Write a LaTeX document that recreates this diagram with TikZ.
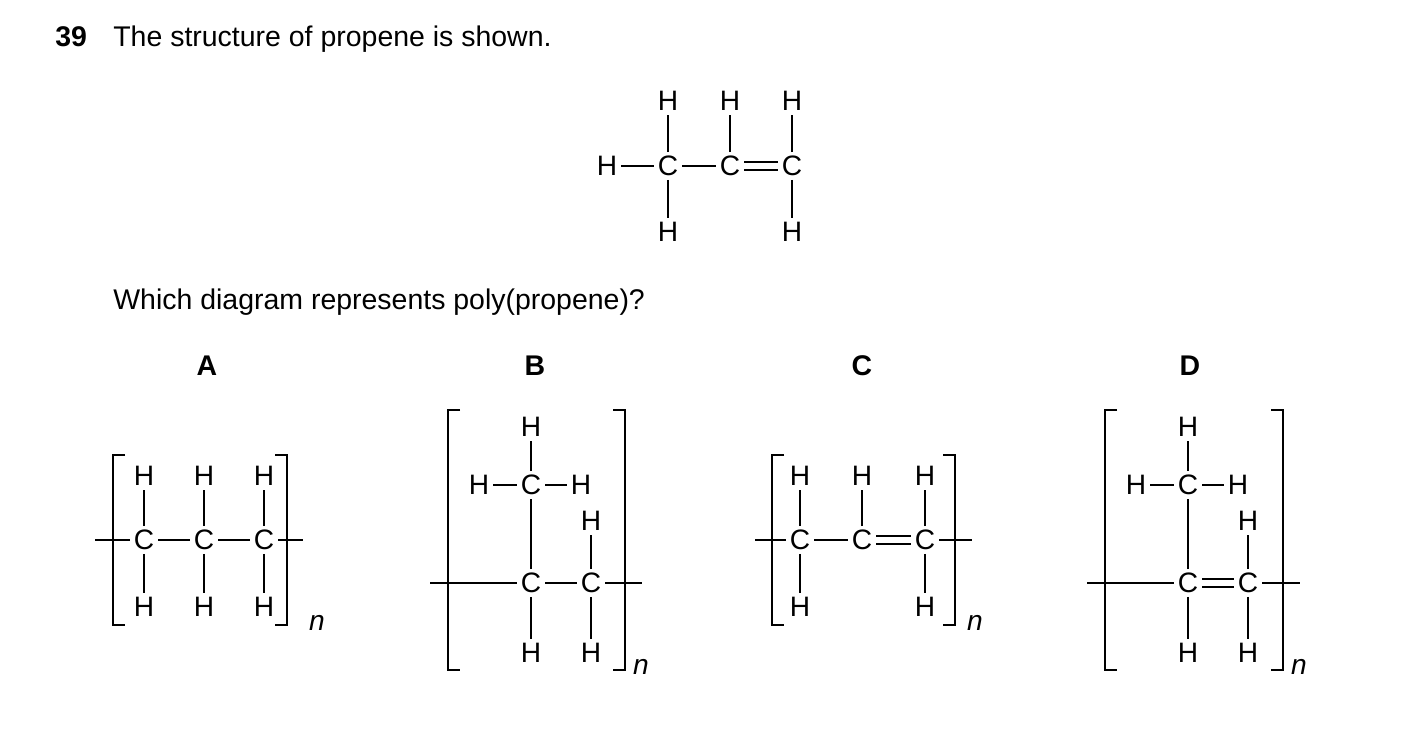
\documentclass[tikz,border=0pt]{standalone}
\usepackage{fontspec}
\setmainfont{Liberation Sans}
\tikzset{
  atom/.style={font=\fontsize{16}{16}\selectfont, inner sep=2pt},
  bond/.style={line width=1.1pt},
  dbond/.style={line width=1.1pt, double, double distance=3.5pt},
  brack/.style={line width=1.1pt},
  txt/.style={font=\fontsize{16.2}{18}\selectfont, anchor=base west, inner sep=0pt},
  lab/.style={font=\fontsize{16.2}{18}\selectfont\bfseries, inner sep=0pt},
  nn/.style={font=\fontsize{16}{16}\selectfont\itshape, inner sep=0pt}
}
\begin{document}
\begin{tikzpicture}[x=0.02cm,y=-0.02cm]
    \useasboundingbox (0,0) rectangle (1403,731);

    \node[txt,font=\fontsize{16.2}{18}\selectfont\bfseries] (num) at (55,46) {39};
    \node[txt] (q1) at (113,46) {The structure of propene is shown.};
    \node[txt] (q2) at (113,309) {Which diagram represents poly(propene)?};

    % propene
    \node[atom] (pH0) at (607,166) {H};
    \node[atom] (pC1) at (668,166) {C};
    \node[atom] (pC2) at (730,166) {C};
    \node[atom] (pC3) at (792,166) {C};
    \node[atom] (pH1) at (668,101) {H};
    \node[atom] (pH2) at (730,101) {H};
    \node[atom] (pH3) at (792,101) {H};
    \node[atom] (pH4) at (668,232) {H};
    \node[atom] (pH5) at (792,232) {H};
    \draw[bond] (pH0) -- (pC1);
    \draw[bond] (pC1) -- (pC2);
    \draw[dbond] (pC2) -- (pC3);
    \draw[bond] (pC1) -- (pH1);
    \draw[bond] (pC2) -- (pH2);
    \draw[bond] (pC3) -- (pH3);
    \draw[bond] (pC1) -- (pH4);
    \draw[bond] (pC3) -- (pH5);

    \node[lab] (labA) at (207,366) {A};
    \node[lab] (labB) at (535,366) {B};
    \node[lab] (labC) at (862,366) {C};
    \node[lab] (labD) at (1190,366) {D};

    % A
    \coordinate (aL) at (95,540);
    \coordinate (aR) at (303,540);
    \foreach \i/\x in {1/144,2/204,3/264} {
      \node[atom] (aC\i) at (\x,540) {C};
      \node[atom] (aT\i) at (\x,476) {H};
      \node[atom] (aB\i) at (\x,607) {H};
      \draw[bond] (aC\i) -- (aT\i);
      \draw[bond] (aC\i) -- (aB\i);
    }
    \draw[bond] (aL) -- (aC1);
    \draw[bond] (aC1) -- (aC2);
    \draw[bond] (aC2) -- (aC3);
    \draw[bond] (aC3) -- (aR);
    \draw[brack] (125,455) -- (113,455) -- (113,625) -- (125,625);
    \draw[brack] (275,455) -- (287,455) -- (287,625) -- (275,625);
    \node[nn] (an) at (317,623) {n};

    % B
    \coordinate (bL) at (430,583);
    \coordinate (bR) at (642,583);
    \node[atom] (bC1) at (531,583) {C};
    \node[atom] (bC2) at (591,583) {C};
    \node[atom] (bC3) at (531,485) {C};
    \node[atom] (bH1) at (531,427) {H};
    \node[atom] (bH2) at (479,485) {H};
    \node[atom] (bH3) at (581,485) {H};
    \node[atom] (bH4) at (591,521) {H};
    \node[atom] (bH5) at (531,653) {H};
    \node[atom] (bH6) at (591,653) {H};
    \draw[bond] (bL) -- (bC1);
    \draw[bond] (bC1) -- (bC2);
    \draw[bond] (bC2) -- (bR);
    \draw[bond] (bC1) -- (bC3);
    \draw[bond] (bC3) -- (bH1);
    \draw[bond] (bC3) -- (bH2);
    \draw[bond] (bC3) -- (bH3);
    \draw[bond] (bC2) -- (bH4);
    \draw[bond] (bC1) -- (bH5);
    \draw[bond] (bC2) -- (bH6);
    \draw[brack] (460,410) -- (448,410) -- (448,670) -- (460,670);
    \draw[brack] (613,410) -- (625,410) -- (625,670) -- (613,670);
    \node[nn] (bn) at (641,667) {n};

    % C
    \coordinate (cL) at (755,540);
    \coordinate (cR) at (972,540);
    \foreach \i/\x in {1/800,2/862,3/925} {
      \node[atom] (cC\i) at (\x,540) {C};
      \node[atom] (cT\i) at (\x,476) {H};
      \draw[bond] (cC\i) -- (cT\i);
    }
    \node[atom] (cB1) at (800,607) {H};
    \node[atom] (cB3) at (925,607) {H};
    \draw[bond] (cC1) -- (cB1);
    \draw[bond] (cC3) -- (cB3);
    \draw[bond] (cL) -- (cC1);
    \draw[bond] (cC1) -- (cC2);
    \draw[dbond] (cC2) -- (cC3);
    \draw[bond] (cC3) -- (cR);
    \draw[brack] (784,455) -- (772,455) -- (772,625) -- (784,625);
    \draw[brack] (943,455) -- (955,455) -- (955,625) -- (943,625);
    \node[nn] (cn) at (975,623) {n};

    % D
    \coordinate (dL) at (1087,583);
    \coordinate (dR) at (1300,583);
    \node[atom] (dC1) at (1188,583) {C};
    \node[atom] (dC2) at (1248,583) {C};
    \node[atom] (dC3) at (1188,485) {C};
    \node[atom] (dH1) at (1188,427) {H};
    \node[atom] (dH2) at (1136,485) {H};
    \node[atom] (dH3) at (1238,485) {H};
    \node[atom] (dH4) at (1248,521) {H};
    \node[atom] (dH5) at (1188,653) {H};
    \node[atom] (dH6) at (1248,653) {H};
    \draw[bond] (dL) -- (dC1);
    \draw[dbond] (dC1) -- (dC2);
    \draw[bond] (dC2) -- (dR);
    \draw[bond] (dC1) -- (dC3);
    \draw[bond] (dC3) -- (dH1);
    \draw[bond] (dC3) -- (dH2);
    \draw[bond] (dC3) -- (dH3);
    \draw[bond] (dC2) -- (dH4);
    \draw[bond] (dC1) -- (dH5);
    \draw[bond] (dC2) -- (dH6);
    \draw[brack] (1117,410) -- (1105,410) -- (1105,670) -- (1117,670);
    \draw[brack] (1271,410) -- (1283,410) -- (1283,670) -- (1271,670);
    \node[nn] (dn) at (1299,667) {n};
\end{tikzpicture}
\end{document}
